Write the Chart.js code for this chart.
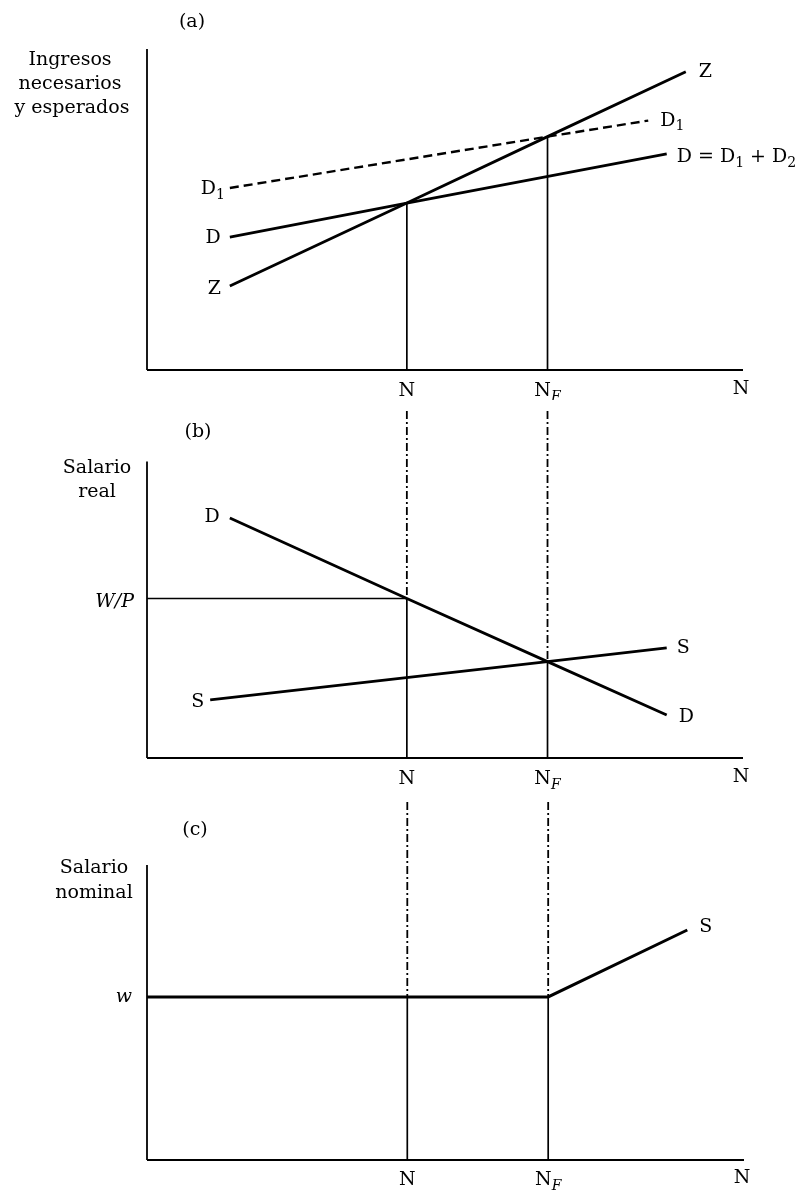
<!DOCTYPE html>
<html>
<head>
<meta charset="utf-8">
<script src="https://cdn.jsdelivr.net/npm/chart.js@4.4.1/dist/chart.umd.min.js"></script>
<style>
  body { margin: 0; background: #fff; }
  #wrap { position: relative; width: 800px; height: 1195px; }
  canvas { position: absolute; left: 0; }
</style>
</head>
<body>
<div id="wrap">
  <canvas id="panelA" width="800" height="400" style="top:0px"></canvas>
  <canvas id="panelB" width="800" height="395" style="top:400px"></canvas>
  <canvas id="panelC" width="800" height="400" style="top:795px"></canvas>
</div>
<script>
// empleo: mismas posiciones en los tres paneles (escala 0..100)
const nX = 43.6;
const nfX = 67.2;
const xLabels = ["N", "N_F", "N"];

// (a) ingresos necesarios (Z) y esperados (D, D1)
const zX = [13.9, 43.6, 67.2, 90.4];
const zY = [26.2, 52.0, 72.7, 92.9];
const dX = [13.9, 43.6, 87.2];
const dY = [41.4, 52.0, 67.3];
const d1X = [13.9, 67.2, 84.1];
const d1Y = [56.7, 72.7, 77.7];

// (b) salario real
const demX = [13.9, 43.6, 67.2, 87.2];
const demY = [80.9, 53.8, 32.5, 14.5];
const supX = [10.6, 67.2, 87.2];
const supY = [19.6, 32.5, 37.1];
const realWage = 53.8;

// (c) salario nominal
const nomX = [0, 67.2, 90.5];
const nomY = [55.3, 55.3, 78];
const nomWage = 55.3;

const FONT = '"DejaVu Serif"';
const DASHDOT = [8, 3, 2, 3];

function pts(xs, ys) {
  return xs.map((x, i) => ({ x: x, y: ys[i] }));
}

function seg(data, width, dash) {
  return {
    data: data,
    showLine: true,
    borderColor: "#000",
    borderWidth: width,
    borderDash: dash || [],
    pointRadius: 0,
    pointHoverRadius: 0,
    fill: false,
    clip: false,
  };
}

// texto con subíndices: "D_1", "N_F"
function drawText(ctx, text, x, y, align, italic) {
  const parts = [];
  let i = 0;
  while (i < text.length) {
    if (text[i] === "_") {
      parts.push({ t: text[i + 1], sub: true });
      i += 2;
    } else {
      let j = i;
      while (j < text.length && text[j] !== "_") j++;
      parts.push({ t: text.slice(i, j), sub: false });
      i = j;
    }
  }
  const fontOf = (p) => {
    if (p.sub) return (/[A-Za-z]/.test(p.t) ? "italic " : "") + "14px " + FONT;
    return (italic ? "italic " : "") + "19px " + FONT;
  };
  let total = 0;
  parts.forEach((p) => {
    ctx.font = fontOf(p);
    p.w = ctx.measureText(p.t).width;
    total += p.w;
  });
  let cx = x;
  if (align === "right") cx = x - total;
  if (align === "center") cx = x - total / 2;
  ctx.fillStyle = "#000";
  ctx.textAlign = "left";
  ctx.textBaseline = "middle";
  parts.forEach((p) => {
    ctx.font = fontOf(p);
    ctx.fillText(p.t, cx, p.sub ? y + 6 : y);
    cx += p.w;
  });
}

const notesPlugin = {
  id: "notes",
  afterDatasetsDraw(chart, args, opts) {
    const ctx = chart.ctx;
    const xs = chart.scales.x;
    const ys = chart.scales.y;
    ctx.save();
    (opts.fixed || []).forEach((f) => {
      drawText(ctx, f.text, f.px, f.py, "center", false);
    });
    (opts.labels || []).forEach((l) => {
      drawText(ctx, l.text, xs.getPixelForValue(l.x) + (l.dx || 0),
        ys.getPixelForValue(l.y) + (l.dy || 0), l.align || "left", l.italic);
    });
    ctx.restore();
  },
};

function axisLabels(dy) {
  return [
    { text: xLabels[0], x: nX, y: 0, dy: dy, align: "center" },
    { text: xLabels[1], x: nfX, y: 0, dy: dy, align: "center" },
    { text: xLabels[2], x: 100, y: 0, dx: -2, dy: dy - 2, align: "center" },
  ];
}

function makeChart(id, yMax, padding, datasets, fixed, labels) {
  return new Chart(document.getElementById(id), {
    type: "scatter",
    data: { datasets: datasets },
    options: {
      responsive: false,
      animation: false,
      layout: { padding: padding },
      scales: {
        x: { type: "linear", min: 0, max: 100, display: false },
        y: { type: "linear", min: 0, max: yMax, display: false },
      },
      plugins: {
        legend: { display: false },
        tooltip: { enabled: false },
        notes: { fixed: fixed, labels: labels },
      },
    },
    plugins: [notesPlugin],
  });
}

// panel (a)
makeChart("panelA", 100, { left: 147, right: 57, top: 49, bottom: 30 }, [
  seg([{ x: 0, y: 0 }, { x: 0, y: 100 }], 1.8),
  seg([{ x: 0, y: 0 }, { x: 100, y: 0 }], 2.2),
  seg([{ x: nX, y: 0 }, { x: nX, y: zY[1] }], 1.7),
  seg([{ x: nfX, y: 0 }, { x: nfX, y: zY[2] }], 1.7),
  seg(pts(d1X, d1Y), 2.4, [9, 5]),
  seg(pts(dX, dY), 2.8),
  seg(pts(zX, zY), 2.8),
], [
  { text: "(a)", px: 192, py: 22 },
  { text: "Ingresos", px: 70, py: 60 },
  { text: "necesarios", px: 70, py: 84 },
  { text: "y esperados", px: 72, py: 108 },
], [
  { text: "Z", x: zX[0], y: zY[0], dx: -9, dy: 3, align: "right" },
  { text: "D", x: dX[0], y: dY[0], dx: -9, dy: 1, align: "right" },
  { text: "D_1", x: d1X[0], y: d1Y[0], dx: -5, dy: 1, align: "right" },
  { text: "Z", x: zX[3], y: zY[3], dx: 13, dy: 0 },
  { text: "D_1", x: d1X[2], y: d1Y[2], dx: 12, dy: 0 },
  { text: "D = D_1 + D_2", x: dX[2], y: dY[2], dx: 10, dy: 3 },
].concat(axisLabels(21)));

// panel (b)
makeChart("panelB", 117, { left: 147, right: 57, top: 11, bottom: 37 }, [
  seg([{ x: 0, y: 0 }, { x: 0, y: 100 }], 1.8),
  seg([{ x: 0, y: 0 }, { x: 100, y: 0 }], 2.2),
  seg([{ x: nX, y: 117 }, { x: nX, y: realWage }], 1.8, DASHDOT),
  seg([{ x: nX, y: 0 }, { x: nX, y: realWage }], 1.7),
  seg([{ x: nfX, y: 117 }, { x: nfX, y: demY[2] }], 1.8, DASHDOT),
  seg([{ x: nfX, y: 0 }, { x: nfX, y: demY[2] }], 1.7),
  seg([{ x: 0, y: realWage }, { x: nX, y: realWage }], 1.5),
  seg(pts(supX, supY), 2.8),
  seg(pts(demX, demY), 2.8),
], [
  { text: "(b)", px: 198, py: 32 },
  { text: "Salario", px: 97, py: 68 },
  { text: "real", px: 97, py: 92 },
], [
  { text: "D", x: demX[0], y: demY[0], dx: -10, dy: -1, align: "right" },
  { text: "S", x: supX[0], y: supY[0], dx: -6, dy: 2, align: "right" },
  { text: "S", x: supX[2], y: supY[2], dx: 10, dy: 0 },
  { text: "D", x: demX[3], y: demY[3], dx: 12, dy: 2 },
  { text: "W/P", x: 0, y: realWage, dx: -13, dy: 4, align: "right", italic: true },
].concat(axisLabels(21)));

// panel (c)
makeChart("panelC", 121.4, { left: 147, right: 56, top: 7, bottom: 35 }, [
  seg([{ x: 0, y: 0 }, { x: 0, y: 100 }], 1.8),
  seg([{ x: 0, y: 0 }, { x: 100, y: 0 }], 2.2),
  seg([{ x: nX, y: 121.4 }, { x: nX, y: nomWage }], 1.8, DASHDOT),
  seg([{ x: nX, y: 0 }, { x: nX, y: nomWage }], 1.7),
  seg([{ x: nfX, y: 121.4 }, { x: nfX, y: nomWage }], 1.8, DASHDOT),
  seg([{ x: nfX, y: 0 }, { x: nfX, y: nomWage }], 1.7),
  seg(pts(nomX, nomY), 3),
], [
  { text: "(c)", px: 195, py: 35 },
  { text: "Salario", px: 94, py: 73 },
  { text: "nominal", px: 94, py: 98 },
], [
  { text: "w", x: 0, y: nomWage, dx: -15, dy: 0, align: "right", italic: true },
  { text: "S", x: nomX[2], y: nomY[2], dx: 12, dy: -3 },
].concat(axisLabels(20)));
</script>
</body>
</html>
